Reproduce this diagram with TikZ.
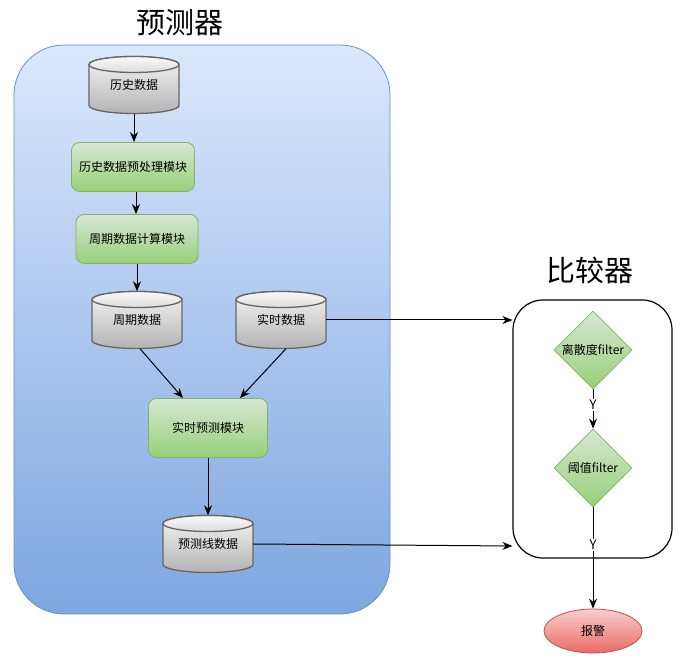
\documentclass[tikz,border=0pt]{standalone}
\usepackage{fontspec}
\setmainfont{Noto Sans CJK SC}
\usetikzlibrary{shapes.geometric,arrows.meta}
\definecolor{bluetop}{HTML}{DAE8FC}
\definecolor{bluebot}{HTML}{7EA6E0}
\definecolor{blueline}{HTML}{6C8EBF}
\definecolor{greentop}{HTML}{D5E8D4}
\definecolor{greenbot}{HTML}{97D077}
\definecolor{greenline}{HTML}{82B366}
\definecolor{cyltop}{HTML}{F5F5F5}
\definecolor{cylbot}{HTML}{B3B3B3}
\definecolor{cylline}{HTML}{666666}
\definecolor{redtop}{HTML}{F8CECC}
\definecolor{redbot}{HTML}{EA6B66}
\definecolor{redline}{HTML}{B85450}
\tikzset{
  lbl/.style={font=\fontsize{12}{14}\selectfont, text=black},
  greenbox/.style={lbl, draw=greenline, line width=0.8pt, rounded corners=8pt, top color=greentop, bottom color=greenbot},
  decision/.style={lbl, diamond, draw=greenline, line width=0.8pt, top color=greentop, bottom color=greenbot, minimum width=78pt, minimum height=78pt, inner sep=0pt, aspect=1},
  alarm/.style={lbl, ellipse, draw=redline, line width=0.8pt, top color=redtop, bottom color=redbot, minimum width=98pt, minimum height=44pt},
  cyltext/.style={lbl, minimum width=90pt, minimum height=57pt, inner sep=0pt},
  arr/.style={-{Stealth[length=10pt,width=8pt]}, line width=1pt, black},
  ylbl/.style={lbl, font=\fontsize{13}{14}\selectfont, fill=white, inner sep=1pt},
  title/.style={font=\fontsize{29}{32}\selectfont}
}
\newcommand\mycyl[4]{%
  \shadedraw[top color=cyltop, bottom color=cylbot, draw=cylline, line width=1.3pt]
    ({#2-45},{#3+20.5}) -- ({#2-45},{#3-20.5})
    arc[start angle=180, end angle=360, x radius=45, y radius=8]
    -- ({#2+45},{#3+20.5})
    arc[start angle=0, end angle=180, x radius=45, y radius=8] -- cycle;
  \shadedraw[top color=cyltop!60!white, bottom color=cyltop!80!gray, draw=cylline, line width=1.3pt]
    (#2,{#3+20.5}) ellipse[x radius=45, y radius=8];
  \node[cyltext] (#1) at (#2,#3) {\raisebox{-4pt}{#4}};
}
\begin{document}
\begin{tikzpicture}[x=1pt,y=1pt]
\useasboundingbox (0,0) rectangle (682,660);
% predictor container
\shadedraw[top color=bluetop, bottom color=bluebot, draw=blueline, line width=0.8pt, rounded corners=50pt]
  (14,46) rectangle (390,615);
\node[title] (t1) at (180,637) {预测器};
\node[title] (t2) at (590,390) {比较器};
% comparator container
\node[draw=black, line width=1.2pt, rounded corners=30pt, minimum width=159pt, minimum height=258pt, inner sep=0pt] (comp) at (592.5,231) {};
% cylinders
\mycyl{hist}{134}{575}{历史数据}
\node[greenbox, minimum width=123pt, minimum height=49pt] (pre) at (133,493) {历史数据预处理模块};
\node[greenbox, minimum width=122pt, minimum height=49pt] (calc) at (137,421) {周期数据计算模块};
\mycyl{period}{137}{340}{周期数据}
\mycyl{real}{281}{340}{实时数据}
\node[greenbox, minimum width=119pt, minimum height=59pt] (rt) at (208,232) {实时预测模块};
\mycyl{pred}{208}{116}{预测线数据}
% comparator content
\node[decision] (d1) at (593,310) {离散度filter};
\node[decision] (d2) at (593,192) {阈值filter};
\node[alarm] (al) at (593,29) {报警};
% connectors
\draw[arr] (hist.south) -- (hist.south |- pre.north);
\draw[arr] ([xshift=3pt]pre.south) -- ([xshift=3pt]pre.south |- calc.north);
\draw[arr] (calc.south) -- (calc.south |- period.north);
\draw[arr] ([xshift=3pt]period.south) -- ([xshift=-25pt]rt.north);
\draw[arr] ([xshift=5pt]real.south) -- ([xshift=32pt]rt.north);
\draw[arr] (rt.south) -- (pred.north);
\draw[arr] (real.east) -- (real.east -| comp.west);
\draw[arr] (pred.east) -- ([yshift=-2pt]pred.east -| comp.west);
\draw[arr] (d1.south) -- node[ylbl, pos=0.4] {Y} (d2.north);
\draw[arr] (d2.south) -- node[ylbl, pos=0.37] {Y} (al.north);
\end{tikzpicture}
\end{document}
